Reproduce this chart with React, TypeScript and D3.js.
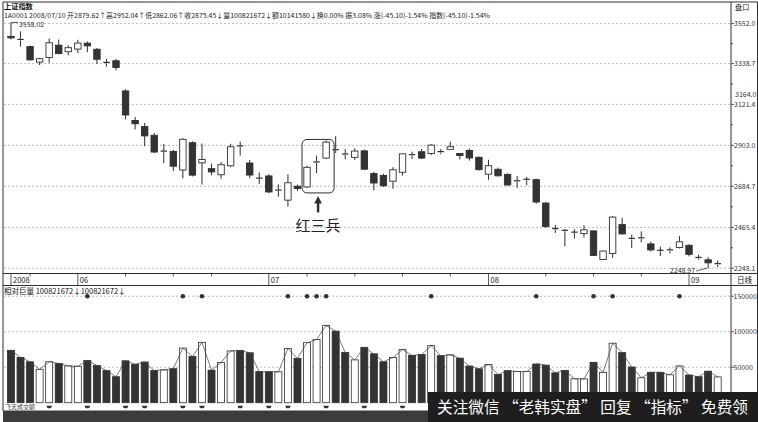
import React from 'react';
import * as d3 from 'd3';

// Daily OHLC of the Shanghai Composite (上证指数), late May – early Sep 2008
const opens = [3483.9, 3467.4, 3429.5, 3347.2, 3371.3, 3437.0, 3402.3, 3416.2, 3447.7, 3415.2,
  3345.2, 3353.8, 3193.1, 3035.6, 3003.0, 2956.6, 2869.0, 2870.1, 2771.4, 2917.1,
  2809.8, 2778.9, 2746.3, 2793.9, 2900.1, 2808.9, 2728.3, 2740.0, 2661.5, 2610.8,
  2685.0, 2681.3, 2808.9, 2835.1, 2879.62, 2857.0, 2838.9, 2873.6, 2752.4, 2742.8,
  2711.9, 2759.4, 2853.4, 2868.9, 2859.3, 2869.5, 2881.7, 2859.9, 2875.4, 2839.1,
  2749.4, 2775.5, 2748.4, 2711.0, 2719.0, 2720.1, 2595.2, 2459.1, 2450.0, 2437.2,
  2433.0, 2446.8, 2294.7, 2326.2, 2480.5, 2406.8, 2406.8, 2377.5, 2343.4, 2342.8,
  2358.3, 2370.1, 2305.5, 2292.7, 2269.2];
const highs = [3558.02, 3510.1, 3434.8, 3370.2, 3472.7, 3466.9, 3436.5, 3465.8, 3456.8, 3422.1,
  3362.8, 3362.3, 3201.6, 3053.8, 3022.8, 2968.9, 2909.6, 2878.7, 2940.6, 2924.1,
  2912.9, 2805.6, 2814.2, 2911.3, 2923.1, 2824.9, 2758.7, 2749.1, 2695.1, 2748.1,
  2694.1, 2795.0, 2847.9, 2929.1, 2952.04, 2882.1, 2886.9, 2881.1, 2760.9, 2751.9,
  2786.7, 2860.9, 2869.4, 2883.3, 2909.5, 2882.3, 2922.3, 2861.5, 2886.1, 2844.4,
  2826.3, 2784.6, 2753.7, 2739.3, 2735.0, 2725.4, 2600.5, 2478.8, 2456.9, 2456.4,
  2477.3, 2450.0, 2342.7, 2525.9, 2516.3, 2426.6, 2444.2, 2390.4, 2363.1, 2358.8,
  2418.6, 2375.5, 2319.9, 2307.1, 2288.4];
const lows = [3467.9, 3430.0, 3354.7, 3331.2, 3343.0, 3387.9, 3383.1, 3394.8, 3399.6, 3336.7,
  3322.3, 3303.6, 3041.4, 2987.6, 2898.4, 2862.1, 2808.2, 2766.6, 2727.1, 2737.2,
  2693.9, 2743.2, 2725.0, 2785.9, 2848.3, 2728.8, 2696.2, 2647.6, 2629.5, 2575.6,
  2659.4, 2676.0, 2755.5, 2829.8, 2862.06, 2828.7, 2824.5, 2770.6, 2663.3, 2680.4,
  2671.3, 2741.8, 2830.4, 2829.9, 2850.8, 2855.6, 2880.1, 2827.8, 2822.0, 2768.1,
  2719.5, 2736.6, 2688.0, 2676.8, 2690.7, 2591.9, 2461.7, 2436.1, 2364.5, 2406.7,
  2411.6, 2313.4, 2291.5, 2303.3, 2427.1, 2355.6, 2385.5, 2337.0, 2312.9, 2326.8,
  2353.0, 2311.4, 2293.2, 2248.97, 2255.0];
const closes = [3475.9, 3464.2, 3358.5, 3364.9, 3449.8, 3392.2, 3423.7, 3448.2, 3433.3, 3361.8,
  3342.0, 3318.0, 3064.9, 3018.0, 2953.4, 2867.4, 2872.2, 2791.7, 2935.3, 2744.2,
  2827.4, 2761.3, 2799.7, 2895.3, 2896.9, 2744.8, 2725.0, 2654.6, 2664.7, 2703.7,
  2672.8, 2785.9, 2814.3, 2920.55, 2875.45, 2853.8, 2872.5, 2775.9, 2702.3, 2687.8,
  2772.8, 2857.7, 2850.2, 2835.2, 2904.2, 2866.3, 2895.6, 2849.2, 2835.9, 2773.4,
  2794.2, 2740.8, 2691.8, 2714.2, 2722.2, 2601.0, 2470.8, 2455.9, 2446.8, 2440.4,
  2452.7, 2316.5, 2339.5, 2520.6, 2430.9, 2403.6, 2410.0, 2345.5, 2340.2, 2346.0,
  2388.7, 2322.0, 2302.3, 2276.7, 2272.4];
// Volume (axis units)
const volumes = [73800, 63800, 57600, 47000, 57700, 55200, 51800, 51300, 59600, 52400,
  45200, 36600, 59000, 54100, 57300, 45300, 46200, 47900, 76900, 65000,
  85000, 45900, 56600, 72900, 73600, 70300, 43800, 43600, 43500, 76300,
  62500, 84500, 89000, 108600, 100821.672, 70700, 60300, 78000, 68800, 57600,
  63600, 74800, 66600, 67900, 80400, 66200, 67400, 62700, 51700, 47700,
  53800, 39600, 45100, 43900, 43800, 54500, 52900, 42000, 45600, 33700,
  33500, 56900, 42700, 83800, 70500, 50300, 35100, 42800, 42800, 39300,
  51800, 39000, 36600, 44400, 36300];

const signalDots = [8, 18, 20, 29, 31, 32, 33, 44, 55, 61, 63, 70];
const cupMarks = [4, 8, 12, 14, 18, 20, 24, 27, 29, 33, 37, 41];
const priceTicks = [3552.0, 3338.7, 3121.4, 2903.0, 2684.7, 2465.4, 2248.1];
const markedPrice = 3164.0;
const volTicks = [150000, 100000, 50000];
const monthStarts = [7, 27, 50, 71];
const monthLabels = ['06', '07', '08', '09'];
const weekTicks = [2, 12, 17, 21, 31, 36, 41, 46, 56, 61, 66];
const soldiers = [31, 32, 33];

const title = '上证指数';
const infoLine = '1A0001 2008/07/10 开2879.62↑高2952.04↑低2862.06↑收2875.45↓量100821672↓额10141580↓换0.00% 振3.08% 涨(-45.10)-1.54% 指数(-45.10)-1.54%';
const volTitle = '相对巨量 100821672↓100821672↓';
const banner = '关注微信 “老韩实盘” 回复 “指标” 免费领';

const FONT = '"Noto Sans CJK SC", "DejaVu Sans", sans-serif';
const INK = '#2e2e2e';

export default function App() {
  const n = closes.length;
  const W = 758, H = 422;
  const axisX = 731;
  const x = d3.scaleBand<number>().domain(d3.range(n)).range([6.2, 722.45]);
  const cx = (i: number) => (x(i) as number) + x.bandwidth() / 2;
  const y = d3.scaleLinear().domain([2248.1, 3552]).range([268.2, 23.6]);
  const yv = d3.scaleLinear().domain([0, 150000]).range([402.7, 296.2]);
  const bodyW = 6.4;
  const volW = 7;
  const stripTop = 273.5, stripBot = 285.5;

  const volLine = d3.line<number>().x((_, i) => cx(i)).y(v => yv(v))(volumes) || '';

  const candles = d3.range(n).map(i => {
    const o = opens[i], c = closes[i];
    const up = c >= o;
    const yt = y(Math.max(o, c)), yb = y(Math.min(o, c));
    const h = Math.max(yb - yt, 1);
    const xc = cx(i);
    return (
      <g key={i}>
        <line x1={xc} x2={xc} y1={y(highs[i])} y2={yt} stroke={INK} strokeWidth={1} />
        <line x1={xc} x2={xc} y1={yt + h} y2={y(lows[i])} stroke={INK} strokeWidth={1} />
        {h <= 1.2 ? (
          <line x1={xc - bodyW / 2} x2={xc + bodyW / 2} y1={yt} y2={yt} stroke={INK} strokeWidth={1.2} />
        ) : (
          <rect x={xc - bodyW / 2} y={yt} width={bodyW} height={h}
            fill={up ? '#fff' : '#333'} stroke={INK} strokeWidth={0.9} />
        )}
      </g>
    );
  });

  const hiIdx = d3.maxIndex(highs);
  const loIdx = d3.minIndex(lows);
  const hx = cx(hiIdx), hy = y(highs[hiIdx]);
  const lx = cx(loIdx), ly = y(lows[loIdx]);

  const boxL = cx(soldiers[0]) - 5;
  const boxR = cx(soldiers[2]) + 8;
  const boxT = y(highs[soldiers[2]]) - 1;
  const boxB = y(lows[soldiers[0]]) + 5;
  const arrowX = (boxL + boxR) / 2;

  const midTicks = priceTicks.slice(1).map((v, k) => (v + priceTicks[k]) / 2);

  return (
    <svg width={W} height={H} style={{ position: 'absolute', left: 0, top: 0, background: '#fff' }}
      fontFamily={FONT}>
      <rect x={0} y={0} width={W} height={H} fill="#fff" />

      {/* frame */}
      <line x1={3} x2={W} y1={2} y2={2} stroke={INK} strokeWidth={1} />
      <line x1={3} x2={3} y1={2} y2={411} stroke={INK} strokeWidth={1} />
      <line x1={axisX} x2={axisX} y1={2} y2={411} stroke={INK} strokeWidth={1} />
      <line x1={757.5} x2={757.5} y1={2} y2={411} stroke={INK} strokeWidth={1} />

      <text x={4} y={8.6} fontSize={7.2} fill="#111" fontWeight="bold">{title}</text>
      <text x={4} y={17.5} fontSize={6.8} fill="#222" textLength={486} lengthAdjust="spacingAndGlyphs">{infoLine}</text>
      <text x={735} y={9.5} fontSize={7.2} fill="#111">盘口</text>

      {/* price grid and axis */}
      {priceTicks.map(v => (
        <g key={v}>
          <line x1={4} x2={axisX} y1={y(v)} y2={y(v)} stroke="#aaa" strokeWidth={0.8} strokeDasharray="2 2" />
          <line x1={axisX} x2={axisX + 3} y1={y(v)} y2={y(v)} stroke={INK} strokeWidth={0.8} />
          <text x={734} y={y(v) + 2.6} fontSize={7} fill="#333">{v.toFixed(1)}</text>
        </g>
      ))}
      {midTicks.map(v => (
        <line key={v} x1={axisX} x2={axisX + 2} y1={y(v)} y2={y(v)} stroke={INK} strokeWidth={0.8} />
      ))}
      <text x={735} y={y(markedPrice) + 1} fontSize={7} fill="#333">{markedPrice.toFixed(1)}</text>

      {candles}

      {/* extreme labels */}
      <line x1={hx} x2={hx + 7} y1={hy} y2={hy} stroke={INK} strokeWidth={0.8} />
      <text x={hx + 8} y={hy + 4.5} fontSize={7} fill="#333">{highs[hiIdx].toFixed(2)}</text>
      <line x1={lx - 1} x2={lx - 12} y1={ly} y2={ly + 3} stroke={INK} strokeWidth={0.8} />
      <text x={lx - 13} y={ly + 4.5} fontSize={7} fill="#333" textAnchor="end">{lows[loIdx].toFixed(2)}</text>

      {/* 红三兵 annotation */}
      <rect x={boxL} y={boxT} width={boxR - boxL} height={boxB - boxT} rx={5} ry={5}
        fill="none" stroke={INK} strokeWidth={1} />
      <path d={`M${arrowX},${boxB + 3} L${arrowX - 3.8},${boxB + 10.5} L${arrowX + 3.8},${boxB + 10.5} Z`} fill={INK} />
      <rect x={arrowX - 1.2} y={boxB + 10} width={2.4} height={9.5} fill={INK} />
      <text x={arrowX} y={231} fontSize={15} fill="#222" textAnchor="middle">红三兵</text>

      {/* date strip */}
      <line x1={3} x2={W} y1={stripTop} y2={stripTop} stroke={INK} strokeWidth={1} />
      <line x1={3} x2={W} y1={stripBot} y2={stripBot} stroke={INK} strokeWidth={1} />
      <line x1={11} x2={11} y1={stripTop} y2={stripBot} stroke={INK} strokeWidth={0.8} />
      <text x={13} y={283} fontSize={7.5} fill="#222">2008</text>
      {weekTicks.map(i => (
        <line key={i} x1={cx(i)} x2={cx(i)} y1={stripTop} y2={stripTop + 3} stroke={INK} strokeWidth={0.8} />
      ))}
      {monthStarts.map((i, k) => (
        <g key={i}>
          <line x1={cx(i)} x2={cx(i)} y1={stripTop} y2={stripBot} stroke={INK} strokeWidth={0.8} />
          <text x={cx(i) + 2} y={283} fontSize={7.5} fill="#222">{monthLabels[k]}</text>
        </g>
      ))}
      <text x={737} y={282.5} fontSize={7.5} fill="#111">日线</text>

      {/* volume panel */}
      <text x={4} y={294} fontSize={7.5} fill="#111">{volTitle}</text>
      {volTicks.map(v => (
        <g key={v}>
          <line x1={4} x2={axisX} y1={yv(v)} y2={yv(v)} stroke="#aaa" strokeWidth={0.8} strokeDasharray="2 2" />
          <line x1={axisX} x2={axisX + 3} y1={yv(v)} y2={yv(v)} stroke={INK} strokeWidth={0.8} />
          <text x={733.5} y={yv(v) + 2.6} fontSize={7} fill="#333">{v}</text>
        </g>
      ))}
      {volumes.map((v, i) => {
        const up = closes[i] >= opens[i];
        return (
          <rect key={i} x={cx(i) - volW / 2} y={yv(v)} width={volW} height={yv(0) - yv(v)}
            fill={up ? '#fff' : '#333'} stroke={INK} strokeWidth={0.8} />
        );
      })}
      <path d={volLine} fill="none" stroke="#444" strokeWidth={0.7} />
      {signalDots.map(i => (
        <circle key={i} cx={cx(i)} cy={yv(150000)} r={2.3} fill="#333" />
      ))}
      {cupMarks.map(i => (
        <path key={i} d={`M${cx(i) - 2.6},${yv(0) + 3} A2.6 2.6 0 0 0 ${cx(i) + 2.6},${yv(0) + 3} Z`} fill="#333" />
      ))}
      <text x={5} y={409} fontSize={6} fill="#444">飞天成交额</text>

      {/* bottom band and banner */}
      <rect x={3} y={410.5} width={W - 3} height={H - 410.5} fill="#3c3c3c" />
      <rect x={428} y={392} width={W - 428} height={H - 392} fill="#1e1e1e" />
      <text x={437} y={413} fontSize={15.6} fill="#fff" textLength={311} lengthAdjust="spacingAndGlyphs">{banner}</text>
    </svg>
  );
}
